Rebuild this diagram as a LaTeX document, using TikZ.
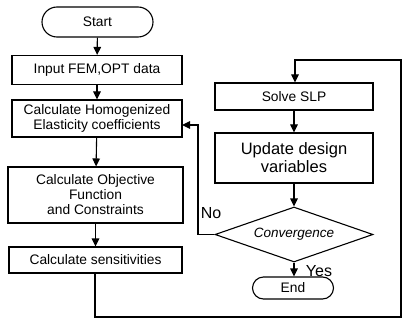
\documentclass[tikz,border=0pt]{standalone}
\usepackage{fontspec}
\setmainfont{Liberation Sans}
\usetikzlibrary{arrows.meta,shapes.geometric}
\begin{document}
\begin{tikzpicture}[x=1pt,y=-1pt,
  line width=1.1pt,
  box/.style={draw, rectangle, inner sep=0pt, align=center, font=\fontsize{13.8}{15}\selectfont},
  term/.style={draw, rectangle, rounded corners=11pt, inner sep=0pt, font=\fontsize{13.8}{15}\selectfont},
  arr/.style={-{Triangle[length=8pt,width=7.5pt]}},
  lbl/.style={inner sep=0pt, font=\fontsize{16}{18}\selectfont}]
\useasboundingbox (0,0) rectangle (403,331);
\node[term, minimum width=111pt, minimum height=30pt, rounded corners=15pt] (start) at (97.5,22) {Start};
\node[box, minimum width=170pt, minimum height=29pt] (input) at (97,70) {Input FEM,OPT data};
\node[box, minimum width=170pt, minimum height=37pt] (homog) at (97,118.5) {Calculate Homogenized\\Elasticity coefficients};
\node[box, minimum width=175pt, minimum height=56pt] (obj) at (95.5,195) {Calculate Objective\\Function\\and Constraints};
\node[box, minimum width=173pt, minimum height=26pt] (sens) at (95.5,260) {Calculate sensitivities};
\node[box, minimum width=158pt, minimum height=27pt] (slp) at (294,96.5) {Solve SLP};
\node[box, minimum width=158pt, minimum height=50pt, font=\fontsize{16.5}{18}\selectfont] (upd) at (294,158) {Update design\\variables};
\node[draw, diamond, aspect=2.87, minimum width=158pt, minimum height=55pt, inner sep=0pt, font=\itshape\fontsize{13.5}{15}\selectfont] (conv) at (294,234.5) {Convergence};
\node[term, minimum width=81pt, minimum height=22pt] (end) at (293,288) {End};
\node[lbl] (no) at (211,213) {No};
\node[lbl] (yes) at (319,271) {Yes};
\coordinate (b1) at (95,317);
\coordinate (b2) at (401,317);
\coordinate (b3) at (401,60);
\coordinate (b4) at (295,60);
\coordinate (n1) at (198,234.5);
\coordinate (n2) at (198,125);
\coordinate (hin) at (182,125);
\draw[arr] (start) -- (input);
\draw[arr] (input) -- (homog);
\draw[arr] (homog) -- (obj);
\draw[arr] (obj.south -| sens.north) -- (sens);
\draw[arr] (sens.south -| b1) -- (b1) -- (b2) -- (b3) -- (b4) -- (slp.north -| b4);
\draw[arr] (slp) -- (upd);
\draw[arr] (upd) -- (conv);
\draw[arr] (conv) -- (conv.south |- end.north);
\draw[arr] (conv.west) -- (n1) -- (n2) -- (hin);
\end{tikzpicture}
\end{document}
